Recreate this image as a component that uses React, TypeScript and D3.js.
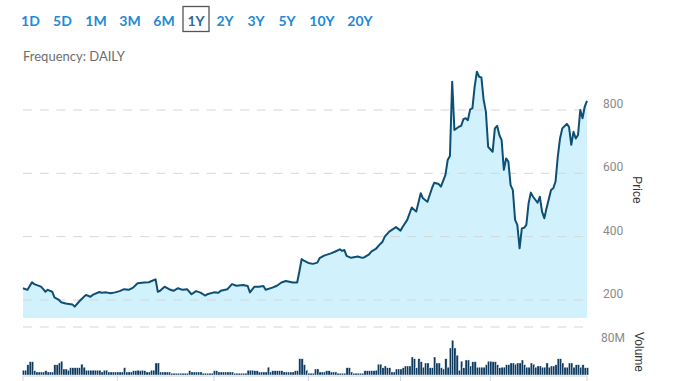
import React from "react";
import * as d3 from "d3";

const rangeButtons = ["1D", "5D", "1M", "3M", "6M", "1Y", "2Y", "3Y", "5Y", "10Y", "20Y"];
const selectedRange = "1Y";
const frequencyLabel = "Frequency: DAILY";

// price vertices: [trading day index, price]
const priceDays = [
  0, 2, 4, 5, 8, 9, 10, 11, 13, 14, 16, 17, 19, 22, 23, 25, 26, 28, 30, 31, 34, 35, 37, 39, 41, 43, 45, 47, 49, 51,
  54, 56, 57, 59, 60, 61, 63, 65, 67, 69, 71, 73, 75, 77, 79, 81, 82, 85, 87, 88, 91, 93, 95, 98, 100, 101, 103, 105,
  107, 108, 111, 113, 115, 117, 120, 122, 123, 124, 125, 127, 129, 131, 132, 134, 137, 139, 141, 142, 143, 144, 146,
  149, 151, 152, 154, 155, 157, 159, 160, 161, 163, 166, 168, 169, 171, 173, 175, 177, 178, 180, 182, 183, 185, 186,
  188, 189, 190, 191, 192, 194, 195, 196, 197, 198, 199, 200, 201, 202, 203, 204, 205, 206, 207, 209, 210, 211, 212,
  213, 214, 215, 216, 217, 218, 219, 220, 221, 222, 223, 224, 225, 226, 227, 229, 230, 231, 232, 233, 235, 236, 237,
  238, 239, 240, 242, 243, 244, 245, 246, 247, 248, 249, 250, 251,
];
const priceValues = [
  237, 232, 256, 250, 242, 234, 226, 232, 226, 208, 200, 193, 189, 186, 179, 195, 202, 216, 210, 216, 225, 223, 224, 221,
  224, 228, 234, 232, 239, 253, 255, 256, 259, 265, 226, 229, 242, 234, 229, 237, 232, 234, 218, 228, 223, 214, 218, 224,
  223, 229, 234, 250, 245, 247, 244, 224, 242, 242, 244, 232, 239, 245, 255, 260, 255, 255, 290, 329, 324, 317, 314, 318,
  332, 340, 347, 353, 360, 355, 358, 339, 333, 337, 333, 335, 344, 353, 361, 377, 384, 400, 416, 430, 419, 431, 453, 492,
  479, 537, 521, 510, 553, 570, 566, 558, 595, 642, 655, 889, 737, 747, 750, 771, 774, 768, 802, 805, 874, 921, 905, 903,
  832, 795, 684, 668, 742, 750, 721, 705, 611, 647, 637, 563, 547, 453, 437, 363, 426, 428, 437, 505, 539, 526, 507, 526,
  479, 458, 490, 547, 553, 574, 653, 710, 742, 756, 747, 690, 731, 710, 721, 800, 774, 811, 829,
];

// daily volume in millions (one per trading day)
const volumeValues = [
  8, 8, 17, 22, 22, 7, 5, 5, 5, 5, 7, 5, 5, 5, 17, 17, 20, 23, 10, 10,
  8, 12, 12, 12, 12, 12, 18, 13, 8, 8, 8, 8, 8, 8, 8, 5, 8, 8, 5, 5,
  5, 5, 5, 5, 5, 12, 5, 5, 5, 7, 7, 8, 7, 8, 7, 5, 5, 8, 8, 20,
  20, 5, 5, 5, 5, 5, 3, 3, 3, 3, 3, 3, 3, 3, 7, 5, 5, 5, 5, 5,
  3, 3, 3, 3, 3, 7, 7, 5, 5, 5, 5, 5, 5, 5, 3, 3, 3, 3, 3, 3,
  8, 8, 8, 7, 7, 5, 5, 5, 5, 13, 5, 7, 7, 7, 7, 7, 5, 5, 5, 5,
  5, 7, 7, 27, 27, 17, 8, 3, 3, 3, 10, 10, 5, 5, 5, 7, 7, 5, 5, 5,
  3, 3, 3, 3, 12, 12, 5, 3, 3, 3, 3, 3, 7, 7, 7, 7, 7, 8, 18, 18,
  12, 15, 12, 12, 5, 5, 10, 10, 10, 12, 15, 15, 15, 30, 27, 12, 27, 22, 13, 20,
  20, 12, 12, 30, 20, 20, 12, 10, 27, 13, 45, 58, 45, 33, 8, 23, 12, 25, 25, 15,
  22, 22, 13, 13, 13, 13, 17, 23, 23, 22, 22, 17, 12, 13, 13, 17, 17, 20, 20, 18,
  20, 20, 25, 17, 13, 13, 20, 18, 13, 15, 15, 13, 13, 20, 13, 15, 15, 17, 27, 27,
  20, 13, 13, 20, 20, 13, 17, 17, 13, 17, 12, 12,
];

const priceTicks = [200, 400, 600, 800];
const volumeTicks = [80];
const monthTickDays = [0, 42, 85, 127, 168, 208, 251];

const W = 678;
const H = 381;

export default function App() {
  const x = d3.scaleLinear().domain([0, volumeValues.length - 1]).range([23, 587]);
  const y = d3.scaleLinear().domain([143, 800]).range([318, 110]);
  const yv = d3.scaleLinear().domain([0, 80]).range([375, 327]);

  const pts: [number, number][] = priceDays.map((d, i) => [d, priceValues[i]]);
  const line = d3.line<[number, number]>().x((d) => x(d[0])).y((d) => y(d[1]));
  const area = d3
    .area<[number, number]>()
    .x((d) => x(d[0]))
    .y0(y(143))
    .y1((d) => y(d[1]));

  const step = x(1) - x(0);
  const gridX0 = 23;
  const gridX1 = 587;

  const btnCenters = [30.5, 62.5, 96, 130, 164, 196, 225, 256, 287, 322, 360];

  return (
    <svg width={W} height={H} style={{ position: "absolute", left: 0, top: 0, display: "block", background: "#fff" }}>
      {/* range buttons */}
      {rangeButtons.map((b, i) => (
        <g key={b}>
          {b === selectedRange && (
            <rect x={183} y={6.5} width={26} height={25} fill="none" stroke="#555" strokeWidth={1.3} />
          )}
          <text
            x={btnCenters[i]}
            y={26}
            textAnchor="middle"
            fontFamily="Lato, 'Open Sans', sans-serif"
            fontWeight={700}
            fontSize={14}
            fill={b === selectedRange ? "#2c6aa0" : "#1e8ad6"}
          >
            {b}
          </text>
        </g>
      ))}
      <text x={23} y={61} fontFamily="Lato, 'Open Sans', sans-serif" fontSize={13} fill="#6e6e6e">
        {frequencyLabel}
      </text>

      {/* price area */}
      <path d={area(pts) || ""} fill="#d1f1fd" />
      {priceTicks.map((t) => (
        <g key={t}>
          <line x1={gridX0} x2={gridX1} y1={y(t)} y2={y(t)} stroke="#d6d6d6" strokeWidth={1} strokeDasharray="9,7.7" />
          <text x={603} y={y(t) - 2} fontFamily="Roboto, Arial, sans-serif" fontSize={12} fill="#8a8a8a">
            {t}
          </text>
        </g>
      ))}
      <path d={line(pts) || ""} fill="none" stroke="#0e4f75" strokeWidth={2} strokeLinejoin="round" />
      <text
        transform={`translate(633,190) rotate(90)`}
        textAnchor="middle"
        fontFamily="Arial, 'Liberation Sans', sans-serif"
        fontSize={12}
        fill="#333"
      >
        Price
      </text>

      {/* volume panel */}
      {volumeTicks.map((t) => (
        <g key={t}>
          <line x1={gridX0} x2={gridX1} y1={yv(t)} y2={yv(t)} stroke="#d6d6d6" strokeWidth={1} strokeDasharray="9,7.7" />
          <text x={601} y={yv(t) + 15} fontFamily="Roboto, Arial, sans-serif" fontSize={12} fill="#8a8a8a">
            {t}M
          </text>
        </g>
      ))}
      {volumeValues.map((v, i) => (
        <rect
          key={i}
          x={x(i) - step / 2 + 0.5}
          y={yv(v)}
          width={step}
          height={yv(0) - yv(v)}
          fill="#0f3a5e"
          stroke="#e6f0f8"
          strokeWidth={0.4}
        />
      ))}
      <line x1={gridX0} x2={gridX1} y1={376} y2={376} stroke="#ccd6eb" strokeWidth={1} />
      {monthTickDays.map((d) => (
        <line key={d} x1={x(d)} x2={x(d)} y1={376} y2={381} stroke="#ccd6eb" strokeWidth={1} />
      ))}
      <text
        transform={`translate(635,352) rotate(90)`}
        textAnchor="middle"
        fontFamily="Arial, 'Liberation Sans', sans-serif"
        fontSize={12}
        fill="#333"
      >
        Volume
      </text>
    </svg>
  );
}
